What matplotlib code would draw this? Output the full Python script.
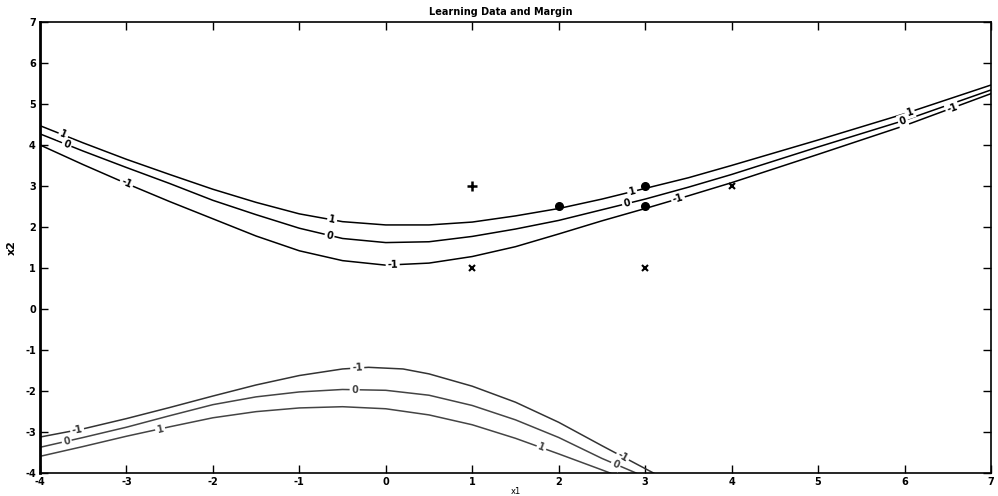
import numpy as np
import matplotlib
matplotlib.use("Agg")
import matplotlib.pyplot as plt

plt.rcParams['axes.unicode_minus'] = False

# margin curves (x values, y values)
up_p1_x = [-4, -3.5, -3, -2.5, -2, -1.5, -1, -0.5, 0, 0.5, 1, 1.5, 2, 2.5, 3, 3.5, 4, 5, 6, 7]
up_p1_y = [4.47, 4.05, 3.65, 3.28, 2.92, 2.6, 2.32, 2.13, 2.05, 2.05, 2.12, 2.27, 2.45, 2.68, 2.94, 3.2, 3.5, 4.12, 4.76, 5.46]
up_0_x = [-4, -3.5, -3, -2.5, -2, -1.5, -1, -0.5, 0, 0.5, 1, 1.5, 2, 2.5, 3, 3.5, 4, 5, 6, 7]
up_0_y = [4.27, 3.85, 3.45, 3.06, 2.65, 2.3, 1.97, 1.72, 1.62, 1.64, 1.77, 1.95, 2.16, 2.42, 2.68, 2.97, 3.28, 3.95, 4.6, 5.34]
up_m1_x = [-4, -3.5, -3, -2.5, -2, -1.5, -1, -0.5, 0, 0.5, 1, 1.5, 2, 2.5, 3, 3.5, 4, 5, 6, 7]
up_m1_y = [4.0, 3.52, 3.06, 2.62, 2.2, 1.78, 1.42, 1.18, 1.07, 1.12, 1.28, 1.52, 1.83, 2.15, 2.45, 2.76, 3.08, 3.77, 4.47, 5.25]

lo_m1_x = [-4, -3.5, -3, -2.5, -2, -1.5, -1, -0.5, -0.2, 0.2, 0.5, 1, 1.5, 2, 2.5, 3.1]
lo_m1_y = [-3.12, -2.92, -2.67, -2.4, -2.12, -1.85, -1.62, -1.46, -1.42, -1.46, -1.58, -1.88, -2.27, -2.76, -3.33, -4.0]
lo_0_x = [-4, -3.5, -3, -2.5, -2, -1.5, -1, -0.5, 0, 0.5, 1, 1.5, 2, 2.5, 2.9]
lo_0_y = [-3.37, -3.13, -2.88, -2.6, -2.33, -2.14, -2.02, -1.96, -1.98, -2.1, -2.35, -2.7, -3.13, -3.64, -4.0]
lo_p1_x = [-4, -3.5, -3, -2.5, -2, -1.5, -1, -0.5, 0, 0.5, 1, 1.5, 2, 2.5, 2.6]
lo_p1_y = [-3.59, -3.35, -3.1, -2.87, -2.65, -2.5, -2.41, -2.38, -2.43, -2.58, -2.82, -3.15, -3.53, -3.92, -4.0]

# where the level labels sit (x along each curve)
up_p1_lab = [-3.73, -0.62, 2.85, 6.06]
up_0_lab = [-3.69, -0.65, 2.79, 5.98]
up_m1_lab = [-3.0, 0.08, 3.38, 6.55]
lo_m1_lab = [-3.57, -0.33, 2.74]
lo_0_lab = [-3.69, -0.36, 2.66]
lo_p1_lab = [-2.61, 1.8]

# training data
plus_x, plus_y = [1], [3]
sv_x, sv_y = [2, 3, 3], [2.5, 3, 2.5]
neg_x, neg_y = [1, 3, 4], [1, 1, 3]

fig = plt.figure(figsize=(9.98, 4.96), dpi=100)
ax = fig.add_axes([0.040, 0.046, 0.953, 0.910])
ax.set_xlim(-4, 7)
ax.set_ylim(-4, 7)

curves = [
    (up_p1_x, up_p1_y, up_p1_lab, '1', 'black'),
    (up_0_x, up_0_y, up_0_lab, '0', 'black'),
    (up_m1_x, up_m1_y, up_m1_lab, '-1', 'black'),
    (lo_m1_x, lo_m1_y, lo_m1_lab, '-1', '#333333'),
    (lo_0_x, lo_0_y, lo_0_lab, '0', '#444444'),
    (lo_p1_x, lo_p1_y, lo_p1_lab, '1', '#444444'),
]
for cx, cy, labs, txt, col in curves:
    ax.plot(cx, cy, color=col, linewidth=1.1)

fig.canvas.draw()
for cx, cy, labs, txt, col in curves:
    for lx in labs:
        ly = np.interp(lx, cx, cy)
        p0 = ax.transData.transform((lx - 0.1, np.interp(lx - 0.1, cx, cy)))
        p1 = ax.transData.transform((lx + 0.1, np.interp(lx + 0.1, cx, cy)))
        ang = np.degrees(np.arctan2(p1[1] - p0[1], p1[0] - p0[0]))
        ax.text(lx, ly, txt, fontsize=7, fontweight='bold', color=col,
                rotation=ang, rotation_mode='anchor', ha='center', va='center',
                bbox=dict(facecolor='white', edgecolor='none', pad=1.2))

ax.plot(plus_x, plus_y, '+', color='black', markersize=7, markeredgewidth=1.8)
ax.plot(sv_x, sv_y, 'o', color='black', markersize=5.5)
ax.plot(neg_x, neg_y, 'x', color='black', markersize=4, markeredgewidth=1.5)

ax.set_xticks(range(-4, 8))
ax.set_yticks(range(-4, 8))
ax.tick_params(direction='in', length=6, width=1, top=True, right=True,
               labelsize=7, pad=3)
for lab in ax.get_xticklabels() + ax.get_yticklabels():
    lab.set_fontweight('bold')
for side in ['top', 'right', 'bottom']:
    ax.spines[side].set_linewidth(1.2)
ax.spines['left'].set_linewidth(2)

ax.set_title('Learning Data and Margin', fontsize=7, fontweight='bold', pad=5, x=0.485)
ax.set_xlabel('x1', fontsize=6, labelpad=0)
ax.set_ylabel('x2', fontsize=8, fontweight='bold', labelpad=6)

fig.savefig('out.png', dpi=100)
